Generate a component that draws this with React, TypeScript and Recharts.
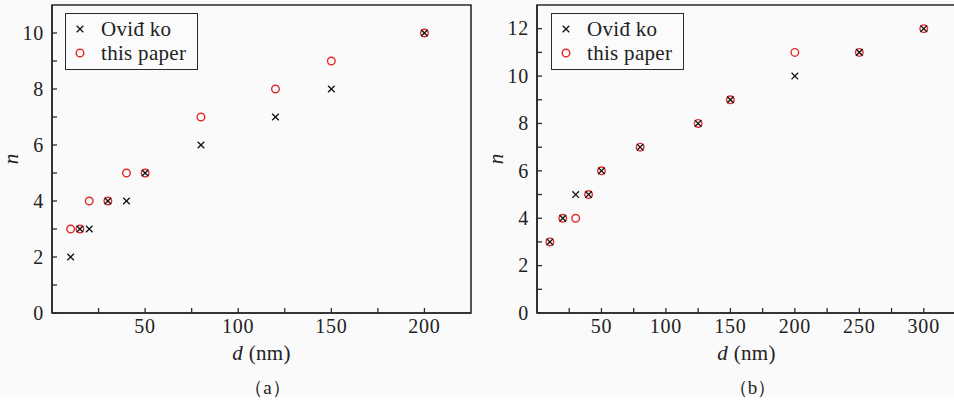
import { ScatterChart, Scatter, XAxis, YAxis, ReferenceArea, Legend, Label } from 'recharts';

// panel (a)
const aDiameters = [10, 15, 20, 30, 40, 50, 80, 120, 150, 200];
const aOvidko = [2, 3, 3, 4, 4, 5, 6, 7, 8, 10];
const aPaper = [3, 3, 4, 4, 5, 5, 7, 8, 9, 10];
const aXTicks = [25, 50, 75, 100, 125, 150, 175, 200];
const aYTicks = [0, 1, 2, 3, 4, 5, 6, 7, 8, 9, 10];

// panel (b)
const bDiameters = [10, 20, 30, 40, 50, 80, 125, 150, 200, 250, 300];
const bOvidko = [3, 4, 5, 5, 6, 7, 8, 9, 10, 11, 12];
const bPaper = [3, 4, 4, 5, 6, 7, 8, 9, 11, 11, 12];
const bXTicks = [25, 50, 75, 100, 125, 150, 175, 200, 225, 250, 275, 300];
const bYTicks = [0, 1, 2, 3, 4, 5, 6, 7, 8, 9, 10, 11, 12];

const SERIF = '"Liberation Serif"';
const INK = '#2a2a2a';
const RED = '#e32b2b';

const toPoints = (xs: number[], ys: number[]) => xs.map((d, i) => ({ d, n: ys[i] }));

const Cross = (p: any) => {
  const { cx, cy } = p;
  const s = 3.3;
  return (
    <path
      d={`M${cx - s},${cy - s}L${cx + s},${cy + s}M${cx - s},${cy + s}L${cx + s},${cy - s}`}
      stroke="#111"
      strokeWidth={1.3}
      fill="none"
    />
  );
};

const Ring = (p: any) => <circle cx={p.cx} cy={p.cy} r={3.8} stroke={RED} strokeWidth={1.4} fill="none" />;

const XTick = (p: any) => {
  const { x, y, payload } = p;
  const axisY = y - 6;
  const major = payload.value % 50 === 0;
  return (
    <g>
      <line x1={x} x2={x} y1={axisY} y2={axisY - 5} stroke={INK} strokeWidth={1.3} />
      {major && (
        <text x={x} y={y} dy="0.72em" textAnchor="middle" fontFamily={SERIF} fontSize={20} letterSpacing={0.8} fill="#222">
          {payload.value}
        </text>
      )}
    </g>
  );
};

const YTick = (p: any) => {
  const { x, y, payload } = p;
  const axisX = x + 9;
  const major = payload.value % 2 === 0;
  return (
    <g>
      <line x1={axisX} x2={axisX + 5} y1={y} y2={y} stroke={INK} strokeWidth={1.3} />
      {major && (
        <text x={x + 1} y={y} dy="0.34em" textAnchor="end" fontFamily={SERIF} fontSize={20} letterSpacing={0.8} fill="#222">
          {payload.value}
        </text>
      )}
    </g>
  );
};

const LegendBox = () => (
  <div
    style={{
      width: 133,
      height: 57,
      border: `1.5px solid ${INK}`,
      background: '#fbfbfb',
      fontFamily: SERIF,
      fontSize: 21,
      letterSpacing: 0.3,
      color: '#222',
      lineHeight: '24px',
      paddingTop: 3,
      boxSizing: 'border-box',
    }}
  >
    <div style={{ display: 'flex', alignItems: 'center' }}>
      <svg width={35} height={24}>
        <Cross cx={14} cy={12} />
      </svg>
      <span>Oviđ ko</span>
    </div>
    <div style={{ display: 'flex', alignItems: 'center' }}>
      <svg width={35} height={24}>
        <Ring cx={14} cy={12} />
      </svg>
      <span>this paper</span>
    </div>
  </div>
);

type PanelProps = {
  tag: string;
  xs: number[];
  ovidko: number[];
  paper: number[];
  xTicks: number[];
  yTicks: number[];
  xMax: number;
  yMax: number;
  left: number;
  marginLeft: number;
  legendLeft: number;
};

const Panel = ({ tag, xs, ovidko, paper, xTicks, yTicks, xMax, yMax, left, marginLeft, legendLeft }: PanelProps) => (
  <div style={{ position: 'absolute', left, top: 0 }}>
    <ScatterChart
      width={480}
      height={403}
      margin={{ top: 5, right: 480 - marginLeft - 419, bottom: 89, left: marginLeft - 1 }}
    >
      <XAxis
        type="number"
        dataKey="d"
        domain={[0, xMax]}
        ticks={xTicks}
        interval={0}
        height={1}
        tickSize={0}
        tickMargin={6}
        tick={<XTick />}
        axisLine={{ stroke: INK, strokeWidth: 1.6 }}
        allowDataOverflow
      >
        <Label
          content={(p: any) => {
            const vb = p.viewBox;
            const cx = vb.x + vb.width / 2;
            return (
              <g fill="#222">
                <text x={cx} y={vb.y + 47} textAnchor="middle" fontFamily={SERIF} fontSize={21} letterSpacing={0.3}>
                  <tspan fontStyle="italic">d</tspan> (nm)
                </text>
                <text x={cx + 6} y={vb.y + 81} textAnchor="middle" fontFamily={SERIF} fontSize={19}>
                  {`（${tag}）`}
                </text>
              </g>
            );
          }}
        />
      </XAxis>
      <YAxis
        type="number"
        dataKey="n"
        domain={[0, yMax]}
        ticks={yTicks}
        interval={0}
        width={1}
        tickSize={0}
        tickMargin={9}
        tick={<YTick />}
        axisLine={{ stroke: INK, strokeWidth: 1.6 }}
        allowDataOverflow
      >
        <Label
          content={(p: any) => {
            const vb = p.viewBox;
            const cy = vb.y + vb.height / 2;
            const lx = vb.x - 33;
            return (
              <text
                x={lx}
                y={cy}
                transform={`rotate(-90 ${lx} ${cy})`}
                textAnchor="middle"
                fontFamily={SERIF}
                fontStyle="italic"
                fontSize={21}
                fill="#222"
              >
                n
              </text>
            );
          }}
        />
      </YAxis>
      <ReferenceArea x1={0} x2={xMax} y1={0} y2={yMax} fill="none" stroke={INK} strokeWidth={1.6} ifOverflow="visible" />
      <Scatter name="this paper" data={toPoints(xs, paper)} shape={Ring} isAnimationActive={false} />
      <Scatter name="Oviđ ko" data={toPoints(xs, ovidko)} shape={Cross} isAnimationActive={false} />
      <Legend
        content={() => <LegendBox />}
        layout="vertical"
        align="center"
        verticalAlign="middle"
        wrapperStyle={{ position: 'absolute', left: legendLeft, top: 13, width: 'auto' }}
      />
    </ScatterChart>
  </div>
);

export default function App() {
  return (
    <div style={{ position: 'absolute', left: 0, top: 0, width: 954, height: 403, overflow: 'hidden', background: '#fff' }}>
      <div style={{ position: 'absolute', left: 0, top: 0, width: 954, height: 397, background: '#fafafa' }} />
      <Panel
        tag="a"
        xs={aDiameters}
        ovidko={aOvidko}
        paper={aPaper}
        xTicks={aXTicks}
        yTicks={aYTicks}
        xMax={225}
        yMax={11}
        left={0}
        marginLeft={52}
        legendLeft={65}
      />
      <Panel
        tag="b"
        xs={bDiameters}
        ovidko={bOvidko}
        paper={bPaper}
        xTicks={bXTicks}
        yTicks={bYTicks}
        xMax={325}
        yMax={13}
        left={480}
        marginLeft={57}
        legendLeft={71}
      />
    </div>
  );
}
